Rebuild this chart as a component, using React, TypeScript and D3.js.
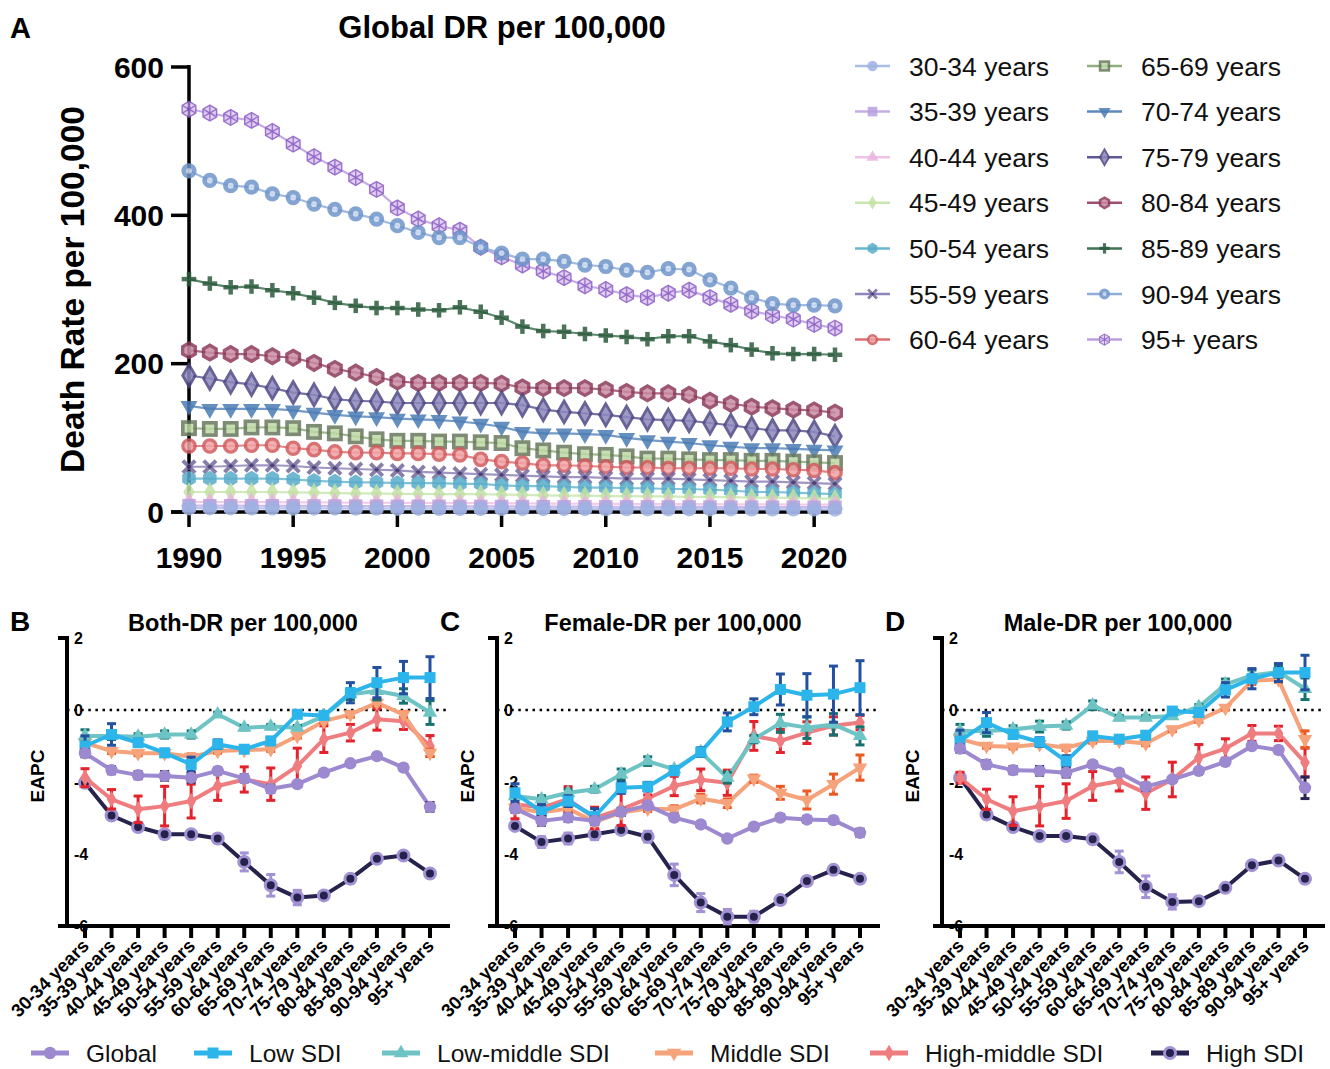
import React from "react";
import * as d3 from "d3";

// ---- panel A data (death rate per 100,000) ----
const years = [1990, 1991, 1992, 1993, 1994, 1995, 1996, 1997, 1998, 1999, 2000, 2001, 2002, 2003, 2004, 2005,
  2006, 2007, 2008, 2009, 2010, 2011, 2012, 2013, 2014, 2015, 2016, 2017, 2018, 2019, 2020, 2021];
const yearTicks = [1990, 1995, 2000, 2005, 2010, 2015, 2020];
const drTicks = [0, 200, 400, 600];

const ageGroups = ["30-34 years", "35-39 years", "40-44 years", "45-49 years", "50-54 years", "55-59 years", "60-64 years",
  "65-69 years", "70-74 years", "75-79 years", "80-84 years", "85-89 years", "90-94 years", "95+ years"];

const dr30to34 = [5.2, 5.1, 5.1, 5.0, 5.0, 4.9, 4.8, 4.8, 4.7, 4.6, 4.5, 4.5, 4.4, 4.4, 4.3, 4.3, 4.2, 4.2, 4.1, 4.1, 4.0, 4.0, 3.9, 3.9, 3.9, 3.8, 3.8, 3.7, 3.7, 3.6, 3.6, 3.5];
const dr35to39 = [8.6, 8.5, 8.5, 8.4, 8.4, 8.3, 8.2, 8.1, 8.0, 7.9, 7.8, 7.8, 7.7, 7.6, 7.5, 7.5, 7.4, 7.3, 7.2, 7.2, 7.1, 7.0, 7.0, 6.9, 6.9, 6.8, 6.7, 6.7, 6.6, 6.6, 6.5, 6.5];
const dr40to44 = [13.6, 13.5, 13.4, 13.3, 13.3, 13.1, 13.0, 12.8, 12.6, 12.5, 12.3, 12.2, 12.1, 12.0, 11.9, 11.7, 11.5, 11.3, 11.2, 11.1, 11.0, 10.9, 10.8, 10.7, 10.6, 10.5, 10.4, 10.3, 10.2, 10.1, 10.0, 9.9];
const dr45to49 = [27, 27, 27, 27, 27, 26.5, 26, 25.5, 25, 25, 24.5, 24.5, 24, 24, 24, 23.5, 23, 22.5, 22, 22, 21.5, 21.5, 21, 21, 20.5, 20.5, 20, 19.5, 19, 19, 18.5, 18];
const dr50to54 = [45, 45, 45, 45, 45, 44, 42, 41, 40, 40, 39, 39, 39, 38, 38, 36, 35, 35, 34, 33, 33, 32, 32, 31, 31, 30, 29, 27, 27, 26, 25, 24];
const dr55to59 = [61, 61, 62, 63, 63, 62, 60, 59, 58, 57, 56, 54, 53, 52, 51, 50, 49, 48, 47, 47, 46, 45, 45, 45, 44, 43, 42, 41, 41, 40, 39, 38];
const dr60to64 = [89, 89, 89, 90, 90, 86, 84, 81, 80, 80, 79, 79, 78, 77, 71, 68, 66, 63, 63, 62, 61, 60, 60, 59, 59, 59, 59, 58, 58, 57, 56, 53];
const dr65to69 = [113, 112, 112, 114, 114, 113, 108, 106, 102, 98, 96, 96, 95, 95, 94, 93, 86, 83, 80, 78, 77, 75, 72, 72, 71, 70, 70, 69, 69, 68, 67, 66];
const dr70to74 = [143, 139, 139, 139, 139, 137, 134, 131, 129, 128, 126, 125, 124, 122, 119, 115, 108, 106, 106, 105, 104, 100, 97, 95, 93, 90, 88, 86, 86, 85, 84, 83];
const dr75to79 = [184, 180, 175, 172, 167, 161, 158, 152, 150, 149, 147, 147, 147, 147, 147, 147, 144, 138, 135, 133, 131, 128, 125, 124, 123, 120, 117, 113, 110, 110, 108, 102];
const dr80to84 = [218, 215, 213, 213, 210, 208, 201, 193, 188, 182, 176, 174, 174, 174, 174, 173, 168, 167, 167, 167, 165, 162, 160, 160, 158, 150, 146, 142, 140, 138, 137, 134];
const dr85to89 = [314, 308, 303, 304, 299, 295, 289, 282, 278, 275, 275, 273, 272, 276, 270, 262, 250, 244, 243, 240, 238, 236, 233, 237, 237, 230, 225, 219, 214, 213, 213, 212];
const dr90to94 = [460, 447, 440, 438, 429, 424, 415, 408, 402, 395, 386, 377, 370, 370, 357, 349, 341, 341, 338, 333, 331, 326, 323, 328, 327, 313, 302, 289, 281, 279, 279, 278];
const dr95plus = [543, 538, 532, 528, 513, 496, 479, 465, 451, 435, 410, 395, 386, 380, 357, 344, 333, 325, 316, 305, 300, 293, 289, 295, 299, 289, 280, 271, 265, 260, 253, 248];

// ---- panels B-D data (EAPC with CI half widths) ----
const eapcAges = ageGroups;
const eapcTicks = [2, 0, -2, -4, -6];
const sdiGroups = ["Global", "Low SDI", "Low-middle SDI", "Middle SDI", "High-middle SDI", "High SDI"];

const bothGlobal = [-1.20, -1.67, -1.81, -1.83, -1.88, -1.69, -1.90, -2.19, -2.06, -1.74, -1.48, -1.28, -1.60, -2.69];
const bothGlobalErr = [0.1, 0.1, 0.1, 0.12, 0.12, 0.08, 0.1, 0.1, 0.06, 0.06, 0.06, 0.06, 0.08, 0.12];
const bothLow = [-1.0, -0.68, -0.91, -1.19, -1.51, -0.95, -1.09, -0.86, -0.12, -0.15, 0.48, 0.76, 0.90, 0.90];
const bothLowErr = [0.28, 0.3, 0.1, 0.1, 0.2, 0.12, 0.08, 0.1, 0.08, 0.08, 0.28, 0.42, 0.45, 0.58];
const bothLowMid = [-0.72, -0.72, -0.74, -0.68, -0.68, -0.12, -0.49, -0.46, -0.49, -0.17, 0.44, 0.53, 0.39, -0.07];
const bothLowMidErr = [0.17, 0.1, 0.08, 0.1, 0.1, 0.06, 0.06, 0.06, 0.06, 0.06, 0.15, 0.25, 0.2, 0.33];
const bothMid = [-0.91, -1.14, -1.20, -1.20, -1.30, -1.14, -1.11, -1.09, -0.72, -0.31, -0.12, 0.20, -0.12, -1.19];
const bothMidErr = [0.06, 0.07, 0.07, 0.06, 0.08, 0.06, 0.06, 0.06, 0.06, 0.06, 0.08, 0.1, 0.08, 0.1];
const bothHighMid = [-1.88, -2.48, -2.76, -2.67, -2.53, -2.11, -1.93, -2.06, -1.56, -0.81, -0.63, -0.26, -0.31, -1.0];
const bothHighMidErr = [0.25, 0.27, 0.37, 0.55, 0.47, 0.4, 0.35, 0.45, 0.5, 0.37, 0.23, 0.3, 0.23, 0.29];
const bothHigh = [-2.02, -2.93, -3.25, -3.45, -3.45, -3.57, -4.22, -4.87, -5.21, -5.15, -4.69, -4.13, -4.04, -4.54];
const bothHighErr = [0.1, 0.1, 0.08, 0.08, 0.08, 0.1, 0.25, 0.3, 0.2, 0.1, 0.08, 0.08, 0.06, 0.08];

const femaleGlobal = [-2.74, -3.08, -2.99, -3.08, -2.83, -2.65, -2.99, -3.18, -3.57, -3.24, -2.99, -3.04, -3.06, -3.41];
const femaleGlobalErr = [0.1, 0.12, 0.1, 0.1, 0.1, 0.08, 0.08, 0.06, 0.06, 0.06, 0.08, 0.08, 0.08, 0.1];
const femaleLow = [-2.30, -2.83, -2.53, -2.96, -2.16, -2.13, -1.69, -1.17, -0.33, 0.09, 0.57, 0.41, 0.44, 0.62];
const femaleLowErr = [0.25, 0.2, 0.15, 0.22, 0.15, 0.12, 0.1, 0.12, 0.25, 0.22, 0.43, 0.6, 0.78, 0.75];
const femaleLowMid = [-2.39, -2.48, -2.30, -2.20, -1.79, -1.42, -1.65, -1.17, -1.88, -0.81, -0.37, -0.49, -0.40, -0.72];
const femaleLowMidErr = [0.1, 0.1, 0.1, 0.08, 0.15, 0.12, 0.08, 0.08, 0.15, 0.1, 0.25, 0.3, 0.3, 0.25];
const femaleMid = [-2.71, -2.85, -2.74, -3.11, -2.85, -2.74, -2.76, -2.46, -2.59, -1.91, -2.30, -2.5, -2.06, -1.60];
const femaleMidErr = [0.08, 0.08, 0.08, 0.08, 0.08, 0.08, 0.1, 0.12, 0.12, 0.1, 0.18, 0.25, 0.28, 0.35];
const femaleHighMid = [-2.62, -2.71, -2.48, -3.0, -2.76, -2.46, -2.11, -1.94, -2.02, -0.72, -0.86, -0.63, -0.44, -0.35];
const femaleHighMidErr = [0.4, 0.15, 0.35, 0.3, 0.45, 0.1, 0.27, 0.3, 0.35, 0.4, 0.32, 0.3, 0.25, 0.2];
const femaleHigh = [-3.22, -3.67, -3.57, -3.45, -3.33, -3.52, -4.58, -5.35, -5.74, -5.74, -5.28, -4.75, -4.44, -4.69];
const femaleHighErr = [0.08, 0.15, 0.15, 0.15, 0.1, 0.15, 0.3, 0.25, 0.2, 0.15, 0.1, 0.1, 0.1, 0.08];

const maleGlobal = [-1.07, -1.51, -1.67, -1.69, -1.74, -1.51, -1.74, -2.13, -1.93, -1.69, -1.44, -1.0, -1.11, -2.16];
const maleGlobalErr = [0.1, 0.1, 0.1, 0.12, 0.12, 0.08, 0.08, 0.1, 0.06, 0.06, 0.06, 0.06, 0.08, 0.3];
const maleLow = [-0.86, -0.35, -0.68, -0.89, -1.42, -0.72, -0.81, -0.70, -0.03, -0.07, 0.56, 0.87, 1.04, 1.04];
const maleLowErr = [0.3, 0.28, 0.1, 0.12, 0.15, 0.1, 0.07, 0.1, 0.07, 0.07, 0.2, 0.28, 0.25, 0.48];
const maleLowMid = [-0.58, -0.58, -0.54, -0.46, -0.43, 0.13, -0.21, -0.21, -0.17, 0.09, 0.71, 0.96, 1.06, 0.59];
const maleLowMidErr = [0.18, 0.15, 0.1, 0.15, 0.1, 0.12, 0.06, 0.06, 0.06, 0.06, 0.15, 0.15, 0.15, 0.3];
const maleMid = [-0.81, -1.0, -1.02, -0.95, -1.05, -0.86, -0.86, -0.93, -0.54, -0.28, 0.06, 0.81, 0.85, -0.81];
const maleMidErr = [0.06, 0.06, 0.06, 0.06, 0.07, 0.06, 0.06, 0.06, 0.06, 0.06, 0.06, 0.1, 0.08, 0.23];
const maleHighMid = [-1.88, -2.48, -2.81, -2.67, -2.53, -2.11, -1.97, -2.31, -1.93, -1.32, -1.07, -0.65, -0.65, -1.46];
const maleHighMidErr = [0.15, 0.28, 0.4, 0.55, 0.48, 0.4, 0.28, 0.45, 0.48, 0.36, 0.27, 0.22, 0.2, 0.4];
const maleHigh = [-1.88, -2.90, -3.25, -3.50, -3.50, -3.59, -4.22, -4.91, -5.33, -5.31, -4.94, -4.31, -4.18, -4.69];
const maleHighErr = [0.1, 0.12, 0.08, 0.06, 0.06, 0.1, 0.3, 0.3, 0.2, 0.1, 0.06, 0.06, 0.06, 0.1];

const FONT = "'Liberation Sans', Arial, Helvetica, sans-serif";

const topValues = [dr30to34, dr35to39, dr40to44, dr45to49, dr50to54, dr55to59, dr60to64,
  dr65to69, dr70to74, dr75to79, dr80to84, dr85to89, dr90to94, dr95plus];

const topLineColor: Record<string, string> = {
  "30-34 years": "#a9bee7", "35-39 years": "#c3aee6", "40-44 years": "#f0c2e4", "45-49 years": "#c9e6b0",
  "50-54 years": "#6ab7d1", "55-59 years": "#8f84ba", "60-64 years": "#dc6e72", "65-69 years": "#8fae7c",
  "70-74 years": "#5d8abf", "75-79 years": "#5e5995", "80-84 years": "#9f4f6d", "85-89 years": "#3f7453",
  "90-94 years": "#8fadd8", "95+ years": "#bb9de2",
};

const sym = (type: d3.SymbolType, size: number) => d3.symbol().type(type).size(size)() as string;
const hex = (r: number) => {
  const pts = d3.range(6).map((i) => {
    const a = (Math.PI / 3) * i + Math.PI / 6;
    return [r * Math.cos(a), r * Math.sin(a)];
  });
  return "M" + pts.map((p) => p.join(",")).join("L") + "Z";
};

function topMarker(age: string, s: number) {
  switch (age) {
    case "30-34 years":
      return <circle r={6.5 * s} fill="#9db3e2" />;
    case "35-39 years":
      return <rect x={-6 * s} y={-6 * s} width={12 * s} height={12 * s} fill="#b7a0de" />;
    case "40-44 years":
      return <path d={sym(d3.symbolTriangle, 100 * s * s)} fill="#eab4dc" />;
    case "45-49 years":
      return <path d={sym(d3.symbolDiamond, 90 * s * s)} fill="#c2e2a4" />;
    case "50-54 years":
      return <path d={hex(7 * s)} fill="#58acc9" />;
    case "55-59 years":
      return (
        <g stroke="#75679c" strokeWidth={3.5 * s}>
          <line x1={-5.5 * s} y1={-5.5 * s} x2={5.5 * s} y2={5.5 * s} />
          <line x1={-5.5 * s} y1={5.5 * s} x2={5.5 * s} y2={-5.5 * s} />
          <circle r={1.8 * s} fill="#3b3266" stroke="none" />
        </g>
      );
    case "60-64 years":
      return <circle r={5.5 * s} fill="#efa3a5" stroke="#d25a5e" strokeWidth={3 * s} />;
    case "65-69 years":
      return <rect x={-5.5 * s} y={-5.5 * s} width={11 * s} height={11 * s} fill="#bdd9a4" stroke="#68785e" strokeWidth={3.2 * s} />;
    case "70-74 years":
      return <path d={sym(d3.symbolTriangle, 100 * s * s)} transform="rotate(180)" fill="#4a7cb3" />;
    case "75-79 years":
      return <path d={sym(d3.symbolDiamond, 110 * s * s)} fill="#8e89bd" stroke="#4d4884" strokeWidth={2.5 * s} />;
    case "80-84 years":
      return <path d={hex(6.5 * s)} fill="#c98ca2" stroke="#8c3a5a" strokeWidth={3 * s} />;
    case "85-89 years":
      return (
        <g stroke="#2c5b3d" strokeWidth={4 * s}>
          <line x1={-6.5 * s} x2={6.5 * s} />
          <line y1={-6.5 * s} y2={6.5 * s} />
        </g>
      );
    case "90-94 years":
      return (
        <g>
          <circle r={6.8 * s} fill="#6f95c9" />
          <circle r={2.6 * s} fill="#cddbf0" />
        </g>
      );
    default:
      return (
        <g stroke="#8b5cc4" strokeWidth={1.3 * s}>
          <path d={hex(7 * s)} fill="#dcc8f0" />
          {[30, 90, 150].map((a) => {
            const r = 7 * s;
            const c = Math.cos((a * Math.PI) / 180) * r;
            const d = Math.sin((a * Math.PI) / 180) * r;
            return <line key={a} x1={-c} y1={-d} x2={c} y2={d} />;
          })}
        </g>
      );
  }
}

const sdiStyle: Record<string, { line: string; err: string; fill: string; stroke: string; shape: string }> = {
  "Global": { line: "#9c89cf", err: "#2b2752", fill: "#9c89cf", stroke: "none", shape: "circle" },
  "Low SDI": { line: "#2cb5ea", err: "#2450a0", fill: "#2cb5ea", stroke: "none", shape: "square" },
  "Low-middle SDI": { line: "#6ec4c5", err: "#17716f", fill: "#6ec4c5", stroke: "none", shape: "triangle" },
  "Middle SDI": { line: "#f6a27b", err: "#ea5a22", fill: "#f6a27b", stroke: "none", shape: "triDown" },
  "High-middle SDI": { line: "#ef7c7f", err: "#e4222b", fill: "#ef7c7f", stroke: "none", shape: "diamond" },
  "High SDI": { line: "#25224c", err: "#a291d3", fill: "#25224c", stroke: "#a291d3", shape: "circle" },
};

function sdiMarker(name: string) {
  const st = sdiStyle[name];
  if (st.shape === "square") return <rect x={-5.5} y={-5.5} width={11} height={11} fill={st.fill} />;
  if (st.shape === "triangle") return <path d={sym(d3.symbolTriangle, 90)} fill={st.fill} />;
  if (st.shape === "triDown") return <path d={sym(d3.symbolTriangle, 90)} transform="rotate(180)" fill={st.fill} />;
  if (st.shape === "diamond") return <path d={sym(d3.symbolDiamond, 80)} fill={st.fill} />;
  if (st.stroke !== "none") return <circle r={5.5} fill={st.fill} stroke={st.stroke} strokeWidth={3} />;
  return <circle r={6.2} fill={st.fill} />;
}

const xTop = d3.scaleLinear().domain([1990, 2021]).range([189, 835]);
const yTop = d3.scaleLinear().domain([0, 600]).range([512, 67]);
const yEapc = d3.scaleLinear().domain([-6, 2]).range([926, 638]);

function TopChart() {
  const line = d3.line<number>().x((_, i) => xTop(years[i])).y((d) => yTop(d));
  const order = ageGroups.map((a, i) => i).reverse();
  return (
    <g fontFamily={FONT}>
      <text x={10} y={38} fontSize={29} fontWeight="bold">A</text>
      <text x={502} y={38} fontSize={31} fontWeight="bold" textAnchor="middle">Global DR per 100,000</text>
      <text transform={`translate(84,${yTop(300)}) rotate(-90)`} fontSize={33.5} fontWeight="bold" textAnchor="middle">
        Death Rate per 100,000
      </text>
      {drTicks.map((t) => (
        <g key={t}>
          <line x1={171} x2={189} y1={yTop(t)} y2={yTop(t)} stroke="#000" strokeWidth={3.5} />
          <text x={164} y={yTop(t)} dy="0.36em" textAnchor="end" fontSize={30} fontWeight="bold">{t}</text>
        </g>
      ))}
      {yearTicks.map((t) => (
        <g key={t}>
          <line x1={xTop(t)} x2={xTop(t)} y1={512} y2={527} stroke="#000" strokeWidth={3.5} />
          <text x={xTop(t)} y={568} textAnchor="middle" fontSize={30} fontWeight="bold">{t}</text>
        </g>
      ))}
      <line x1={189} x2={189} y1={65} y2={513} stroke="#000" strokeWidth={3.5} />
      <line x1={171} x2={840} y1={512} y2={512} stroke="#000" strokeWidth={3.5} />
      {order.map((i) => {
        const age = ageGroups[i];
        const vals = topValues[i];
        return (
          <g key={age}>
            <path d={line(vals) as string} fill="none" stroke={topLineColor[age]} strokeWidth={2.2} opacity={0.85} />
            <g opacity={0.85}>
              {vals.map((v, j) => (
                <g key={j} transform={`translate(${xTop(years[j])},${yTop(v)})`}>{topMarker(age, 1.12)}</g>
              ))}
            </g>
          </g>
        );
      })}
      {ageGroups.map((age, i) => {
        const col = Math.floor(i / 7);
        const row = i % 7;
        const x0 = col === 0 ? 855 : 1087;
        const y0 = 66 + row * 45.6;
        return (
          <g key={age} transform={`translate(${x0},${y0})`}>
            <line x1={0} x2={35} stroke={topLineColor[age]} strokeWidth={2.5} />
            <g transform="translate(17.5,0)" opacity={0.85}>{topMarker(age, 0.8)}</g>
            <text x={54} dy="0.36em" fontSize={26.5} fill="#111">{age}</text>
          </g>
        );
      })}
    </g>
  );
}

type Row = { name: string; vals: number[]; errs: number[] };

function EapcPanel({ letter, title, axisX, rows }: { letter: string; title: string; axisX: number; rows: Row[] }) {
  const x = d3.scalePoint<string>().domain(eapcAges).range([axisX + 18, axisX + 363]);
  const xEnd = axisX + 383;
  const line = d3.line<number>().x((_, i) => x(eapcAges[i]) as number).y((d) => yEapc(d));
  const drawOrder = [...rows].reverse();
  return (
    <g fontFamily={FONT}>
      <text x={axisX - 57} y={631} fontSize={28} fontWeight="bold">{letter}</text>
      <text x={axisX + 176} y={631} fontSize={23.5} fontWeight="bold" textAnchor="middle">{title}</text>
      <text transform={`translate(${axisX - 23},776) rotate(-90)`} fontSize={19} fontWeight="bold" textAnchor="middle">EAPC</text>
      {eapcTicks.map((t) => (
        <text key={t} x={axisX + 7} y={yEapc(t)} dy="0.36em" fontSize={16} fontWeight="bold">{t}</text>
      ))}
      <line x1={axisX} x2={xEnd} y1={yEapc(0)} y2={yEapc(0)} stroke="#000" strokeWidth={2.5} strokeDasharray="2.5,4.6" />
      <line x1={axisX} x2={axisX} y1={636} y2={928} stroke="#000" strokeWidth={4} />
      <line x1={axisX - 9} x2={axisX} y1={yEapc(2)} y2={yEapc(2)} stroke="#000" strokeWidth={4} />
      <line x1={axisX - 9} x2={xEnd} y1={926} y2={926} stroke="#000" strokeWidth={4} />
      {eapcAges.map((a) => (
        <g key={a}>
          <line x1={x(a)} x2={x(a)} y1={926} y2={938} stroke="#000" strokeWidth={4} />
          <text transform={`translate(${(x(a) as number) + 5},947) rotate(-45)`} textAnchor="end" fontSize={18.5} fontWeight="bold">
            {a}
          </text>
        </g>
      ))}
      {drawOrder.map((r) => {
        const st = sdiStyle[r.name];
        return (
          <g key={r.name}>
            <path d={line(r.vals) as string} fill="none" stroke={st.line} strokeWidth={4} strokeLinejoin="round" />
            <g stroke={st.err} strokeWidth={3}>
              {r.vals.map((v, i) => {
                const cx = x(eapcAges[i]) as number;
                const lo = yEapc(v - r.errs[i]);
                const hi = yEapc(v + r.errs[i]);
                return (
                  <g key={i}>
                    <line x1={cx} x2={cx} y1={lo} y2={hi} />
                    <line x1={cx - 4.5} x2={cx + 4.5} y1={lo} y2={lo} />
                    <line x1={cx - 4.5} x2={cx + 4.5} y1={hi} y2={hi} />
                  </g>
                );
              })}
            </g>
            {r.vals.map((v, i) => (
              <g key={i} transform={`translate(${x(eapcAges[i])},${yEapc(v)})`}>{sdiMarker(r.name)}</g>
            ))}
          </g>
        );
      })}
    </g>
  );
}

const legendSymX = [31, 194, 382, 655, 870, 1151];

export default function App() {
  const both: Row[] = [
    { name: sdiGroups[0], vals: bothGlobal, errs: bothGlobalErr },
    { name: sdiGroups[1], vals: bothLow, errs: bothLowErr },
    { name: sdiGroups[2], vals: bothLowMid, errs: bothLowMidErr },
    { name: sdiGroups[3], vals: bothMid, errs: bothMidErr },
    { name: sdiGroups[4], vals: bothHighMid, errs: bothHighMidErr },
    { name: sdiGroups[5], vals: bothHigh, errs: bothHighErr },
  ];
  const female: Row[] = [
    { name: sdiGroups[0], vals: femaleGlobal, errs: femaleGlobalErr },
    { name: sdiGroups[1], vals: femaleLow, errs: femaleLowErr },
    { name: sdiGroups[2], vals: femaleLowMid, errs: femaleLowMidErr },
    { name: sdiGroups[3], vals: femaleMid, errs: femaleMidErr },
    { name: sdiGroups[4], vals: femaleHighMid, errs: femaleHighMidErr },
    { name: sdiGroups[5], vals: femaleHigh, errs: femaleHighErr },
  ];
  const male: Row[] = [
    { name: sdiGroups[0], vals: maleGlobal, errs: maleGlobalErr },
    { name: sdiGroups[1], vals: maleLow, errs: maleLowErr },
    { name: sdiGroups[2], vals: maleLowMid, errs: maleLowMidErr },
    { name: sdiGroups[3], vals: maleMid, errs: maleMidErr },
    { name: sdiGroups[4], vals: maleHighMid, errs: maleHighMidErr },
    { name: sdiGroups[5], vals: maleHigh, errs: maleHighErr },
  ];

  return (
    <svg width={1330} height={1069} style={{ position: "absolute", left: 0, top: 0, background: "#fff" }}>
      <rect width={1330} height={1069} fill="#fff" />
      <TopChart />
      <EapcPanel letter="B" title="Both-DR per 100,000" axisX={67} rows={both} />
      <EapcPanel letter="C" title="Female-DR per 100,000" axisX={497} rows={female} />
      <EapcPanel letter="D" title="Male-DR per 100,000" axisX={942} rows={male} />
      <g fontFamily={FONT}>
        {sdiGroups.map((g, i) => (
          <g key={g} transform={`translate(${legendSymX[i]},1053)`}>
            <line x1={0} x2={38} stroke={sdiStyle[g].line} strokeWidth={5} />
            <g transform="translate(19,0)">{sdiMarker(g)}</g>
            <text x={55} dy="0.36em" fontSize={24.5} fill="#111">{g}</text>
          </g>
        ))}
      </g>
    </svg>
  );
}
